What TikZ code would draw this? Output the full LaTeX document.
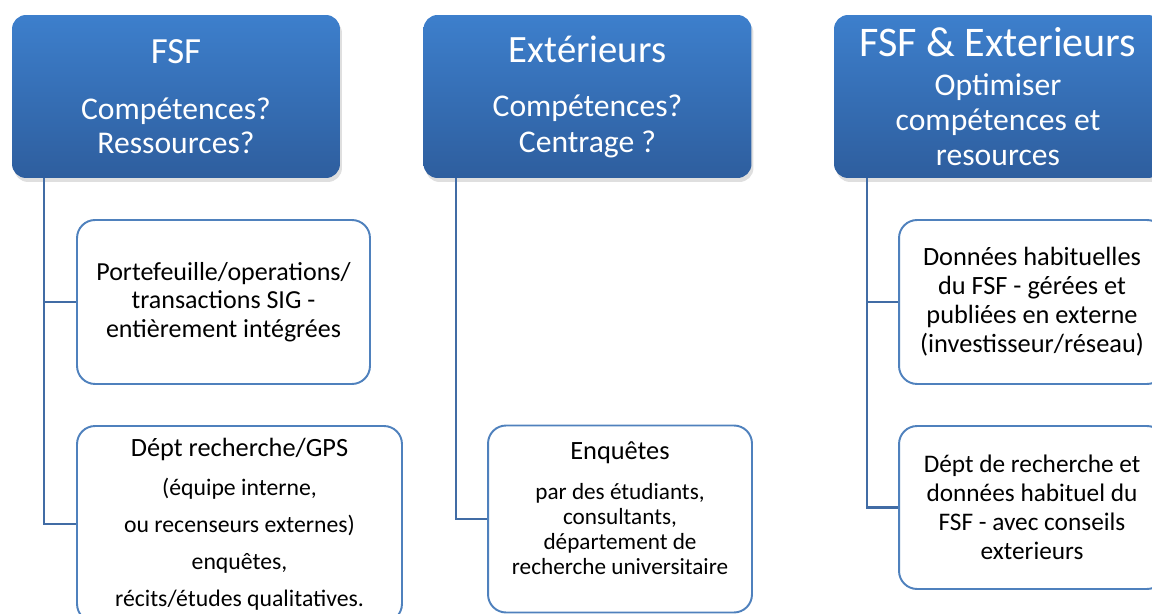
\documentclass[tikz,border=0pt]{standalone}
\usepackage{fontspec}
\setmainfont{Carlito}
\usetikzlibrary{positioning,shadows}

\definecolor{hdrtop}{RGB}{61,127,204}
\definecolor{hdrbot}{RGB}{46,94,158}
\definecolor{boxline}{RGB}{79,129,189}
\definecolor{linkline}{RGB}{65,108,165}

\tikzset{
  header/.style={rounded corners=0.28cm, top color=hdrtop, bottom color=hdrbot,
    text=white, align=center, inner sep=0pt,
    minimum width=6.56cm, minimum height=3.26cm,
    drop shadow={shadow xshift=0.04cm, shadow yshift=-0.08cm, opacity=0.25}},
  item/.style={rounded corners=0.36cm, draw=boxline, line width=1.1pt,
    fill=white, align=center, inner sep=0pt},
  link/.style={draw=linkline, line width=1.2pt},
}

\begin{document}
\begin{tikzpicture}[x=0.02cm, y=-0.02cm]
    \path[use as bounding box, clip] (0,0) rectangle (1152,614);

    % Headers
    \node[header, font=\fontsize{18}{19.3}\selectfont] (fsf) at (176,96.5)
      {{\fontsize{21}{21}\selectfont FSF}\\[12.6pt]Compétences?\\Ressources?};
    \node[header, font=\fontsize{18}{20.5}\selectfont] (ext) at (587.5,96.5)
      {{\fontsize{22}{22}\selectfont Extérieurs}\\[10.2pt]Compétences?\\Centrage ?};
    \node[header, font=\fontsize{18}{19.9}\selectfont] (both) at (998,96.5)
      {{\fontsize{24}{24}\selectfont FSF \& Exterieurs}\\[2.3pt]Optimiser\\compétences et\\resources};

    % Boxes
    \node[item, minimum width=5.86cm, minimum height=3.28cm,
      font=\fontsize{14.8}{16.2}\selectfont] (fsfA) at (223.5,302)
      {Portefeuille/operations/\\transactions SIG -\\entièrement intégrées};
    \node[item, minimum width=6.5cm, minimum height=3.92cm,
      font=\fontsize{13.5}{21}\selectfont] (fsfB) at (239.5,524)
      {{\fontsize{15}{15}\selectfont Dépt recherche/GPS}\\[1.5pt](équipe interne,\\ou recenseurs externes)\\enquêtes,\\récits/études qualitatives.};
    \node[item, minimum width=5.28cm, minimum height=3.74cm,
      font=\fontsize{13.2}{14.2}\selectfont] (extA) at (620,519)
      {{\fontsize{15}{15}\selectfont Enquêtes}\\[9pt]par des étudiants,\\consultants,\\département de\\recherche universitaire\\[-1.6pt]\mbox{}};
    \node[item, minimum width=5.32cm, minimum height=3.28cm,
      font=\fontsize{15}{16.5}\selectfont] (bothA) at (1032,302)
      {Données habituelles\\du FSF - gérées et\\publiées en externe\\(investisseur/réseau)};
    \node[item, minimum width=5.32cm, minimum height=3.26cm,
      font=\fontsize{14.4}{16.5}\selectfont] (bothB) at (1032,507.5)
      {Dépt de recherche et\\données habituel du\\FSF - avec conseils\\exterieurs};

    % Links
    \draw[link] ([xshift=0.64cm]fsf.south west) |- (fsfA.west);
    \draw[link] ([xshift=0.64cm]fsf.south west) |- (fsfB.west);
    \draw[link] ([xshift=0.66cm]ext.south west) |- (extA.west);
    \draw[link] ([xshift=0.66cm]both.south west) |- (bothA.west);
    \draw[link] ([xshift=0.66cm]both.south west) |- (bothB.west);
\end{tikzpicture}
\end{document}
